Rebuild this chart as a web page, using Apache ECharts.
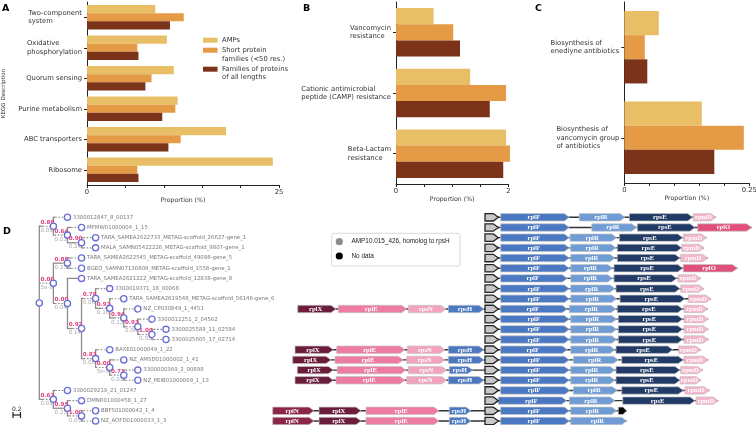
<!DOCTYPE html>
<html><head><meta charset="utf-8">
<script src="https://cdn.jsdelivr.net/npm/echarts@6/dist/echarts.min.js"></script>
<style>html,body{margin:0;padding:0;background:#fff}#c{width:756px;height:425px}</style>
</head><body><div id="c"></div>
<script>
// ---------- Panel A: KEGG description ----------
const keggCats = ['Two-component\nsystem','Oxidative\nphosphorylation','Quorum sensing','Purine metabolism','ABC transporters','Ribosome'];
const keggAMPs  = [8.9, 10.4, 11.3, 11.8, 18.1, 24.2];
const keggShort = [12.6, 6.55, 8.4, 11.5, 12.2, 6.55];
const keggAll   = [10.8, 6.7, 7.6, 9.8, 10.6, 6.7];
// ---------- Panel B: resistance ----------
const resCats  = ['Vancomycin\nresistance','Cationic antimicrobial\npeptide (CAMP) resistance','Beta-Lactam\nresistance'];
const resAMPs  = [0.67, 1.32, 1.96];
const resShort = [1.02, 1.96, 2.03];
const resAll   = [1.14, 1.67, 1.91];
// ---------- Panel C: biosynthesis ----------
const bioCats  = ['Biosynthesis of\nenediyne antibiotics','Biosynthesis of\nvancomycin group\nof antibiotics'];
const bioAMPs  = [0.069, 0.155];
const bioShort = [0.041, 0.239];
const bioAll   = [0.046, 0.18];
const seriesNames = ['AMPs','Short protein\nfamilies (<50 res.)','Families of proteins\nof all lengths'];
const axisMaxA = 25, axisStepA = 5;
const axisMaxB = 2, axisStepB = 0.5;
const axisMaxC = 0.25, axisStepC = 0.05;

// ---------- Panel D: tree (Newick, support as node name, branch length) ----------
const treeNewick = "((3300012847_8_00137:0.05,(MFMW01000004_1_15:0.1,(TARA_SAMEA2622733_METAG-scaffold_26627-gene_1:0.05,MALA_SAMN05422226_METAG-scaffold_9807-gene_1:0.05)0.90:0.24)0.64:0.03)0.88:0.09,((TARA_SAMEA2622545_METAG-scaffold_49098-gene_5:0.1,BGEO_SAMN07136809_METAG-scaffold_1558-gene_1:0.1)0.88:0.23,(TARA_SAMEA2621222_METAG-scaffold_12838-gene_8:0.4,((3300019371_18_00068:0.05,(TARA_SAMEA2619548_METAG-scaffold_56146-gene_6:0.05,(NZ_CP030849_1_4451:0.05,(3300012251_2_04562:0.05,(3300025589_11_02594:0.05,3300025605_17_02714:0.05)1.00:0.03)0.93:0.06)0.94:0.13)0.93:0.16)0.78:0.06,(BAXE01000049_1_22:0.05,(NZ_AMSD01000002_1_41:0.1,(3300000369_2_00898:0.05,NZ_PEIB01000009_1_13:0.05)0.71:0.03)0.00:5e-9)0.83:0.06)0.92:0.14)0.00:0.04)0.00:5e-9,(3300029219_21_01247:0.05,(DMNR01000458_1_27:0.05,(BBFS01000042_1_4:0.05,NZ_AOFD01000033_1_3:0.05)1.00:0.05)0.95:0.25)0.67:0.09);";
const scaleBarLen = 0.2;

// ---------- Panel D: gene neighbourhoods (positions relative to the AMP homolog start) ----------
const anchorGene = [0, 13.3];
const geneRows = [
 [['rplF',15.7,84.3],['rplR',94.3,140],['rpsE',144.3,207.7],['rpmD',208.3,231]],
 [['rplF',15.7,84.3],['rplR',106.7,151.7],['rpsE',152.3,210],['rplO',212.7,266.7]],
 [['rplF',15.7,84.3],['rplR',85,131.7],['rpsE',134.3,197.7],['rpmD',198.3,221.7]],
 [['rplF',15.7,84.3],['rplR',85.7,131],['rpsE',132.3,196.7],['rpmD',196.7,219]],
 [['rplF',15.7,84.3],['rplR',85.7,130],['rpsE',132.3,195],['rpmD',195.7,222.7]],
 [['rplF',15.7,84.3],['rplR',85.7,127.7],['rpsE',129,197.7],['rplO',198.3,252.3]],
 [['rplF',15.7,82.3],['rplR',85.7,127.7],['rpsE',129,191.7],['rpmD',193,215.7]],
 [['rplF',15.7,84.3],['rplR',85.7,130],['rpsE',131,195],['rpmD',195.7,219]],
 [['rplF',15.7,84.3],['rplR',85.7,131.7],['rpsE',135,200],['rpmD',203.3,226]],
 [['rplX',-187.3,-149],['rplE',-146.7,-78.3],['rpsN',-76.7,-39],['rpsH',-36.7,-1],['rplF',15.7,82.3],['rplR',84.3,131],['rpsE',132.3,197.7],['rpmD',199,222.7]],
 [['rplF',15.7,84.3],['rplR',85.7,131.7],['rpsE',133.3,197.7],['rpmD',199,223.3]],
 [['rplF',15.7,84.3],['rplR',85.7,131.7],['rpsE',133.3,197.7],['rpmD',199,223.3]],
 [['rplF',15.7,84.3],['rplR',85.7,131.7],['rpsE',133.3,197.7],['rpmD',199,223.3]],
 [['rplX',-190,-151.7],['rplE',-148.3,-80],['rpsN',-77.7,-40],['rpsH',-36.7,-1],['rplF',15.7,82.3],['rplR',85.7,130],['rpsE',131,187.7],['rpmD',193.7,215.7]],
 [['rplX',-192.3,-154],['rplE',-150,-81.7],['rpsN',-78.3,-40],['rpsH',-36.7,-1],['rplF',15.7,84.3],['rplR',88.3,133.3],['rpsE',136.7,198.3],['rpmD',199,223.3]],
 [['rplX',-187.7,-151.7],['rplE',-147.7,-79],['rpsN',-76.7,-38.3],['rpsH',-35.7,-12.3],['rplF',15.7,84.3],['rplR',85.7,130],['rpsE',131,195],['rpmD',195.7,217.7]],
 [['rplX',-190,-151.7],['rplE',-149,-80],['rpsN',-78.3,-38.3],['rpsH',-36.7,-1],['rplF',15.7,84.3],['rplR',85.7,130],['rpsE',131,195],['rpmD',195,216]],
 [['rplF',15.7,85],['rplR',88.3,132.3],['rpsE',136.7,198.3],['rpmD',200,224.3]],
 [['rplF',13.3,81.7],['rplR',84.3,130],['rpsE',137.7,210],['rpmD',211,233.3]],
 [['rplN',-212.3,-171],['rplX',-166,-124],['rplE',-119,-46],['rpsH',-35.7,-14],['rplF',15.7,84.3],['rplR',85.7,131.7],['nodata',133.3,141.7]],
 [['rplN',-212.3,-171],['rplX',-166,-124],['rplE',-119,-46],['rpsH',-35.7,-14],['rplF',15.7,84.3],['rplR',85.7,141.7]]
];

// ---------- styles ----------
const barColors = ['#E8BF66','#E59A46','#7B3319'];
const geneColors = {rplF:'#4a78c2', rplR:'#709cd6', rpsE:'#213b66', rpmD:'#f5b5ca', rplO:'#e14f7c',
  rplX:'#6b1e3c', rplE:'#ee7ba2', rpsN:'#f2a3bf', rpsH:'#4a78c2', rplN:'#8c2549', nodata:'#000000'};
const FONT = 'DejaVu Sans';
const txt = '#333';

// parse Newick
function parseNewick(s){
  let i = 0;
  function node(){
    const n = {children:[], name:'', len:''};
    if (s[i] === '('){
      i++; n.children.push(node());
      while (s[i] === ','){ i++; n.children.push(node()); }
      i++;
    }
    let name=''; while (i < s.length && !',():;'.includes(s[i])) name += s[i++];
    n.name = name;
    if (s[i] === ':'){ i++; let l=''; while (i < s.length && !',();'.includes(s[i])) l += s[i++]; n.len = l; }
    return n;
  }
  return node();
}
const root = parseNewick(treeNewick);
const nodes = []; let leafIdx = 0;
(function layout(n, depth, parent){
  n.x = depth; n.parent = parent; nodes.push(n);
  if (n.children.length){
    n.children.forEach(c => layout(c, depth+1, n));
    n.y = n.children.reduce((a,c)=>a+c.y,0)/n.children.length;
  } else n.y = leafIdx++;
})(root, 0, null);
const distToDepth = 2.66; // depth units per branch-length unit

function renderTree(params, api){
  const n = nodes[params.dataIndex];
  const p = api.coord([n.x, n.y]);
  const els = [];
  const ls = {stroke:'#8c8c8c', lineWidth:1.3};
  if (n.children.length){
    const a = api.coord([n.x, n.children[0].y]), b = api.coord([n.x, n.children[n.children.length-1].y]);
    els.push({type:'line', shape:{x1:a[0],y1:a[1]-0.6,x2:b[0],y2:b[1]+0.6}, style:ls});
  }
  if (n.parent){
    const q = api.coord([n.parent.x, n.y]);
    const d = parseFloat(n.len)||0;
    const sx = api.coord([Math.min(n.x, n.parent.x + d*distToDepth), n.y])[0];
    els.push({type:'line', shape:{x1:q[0],y1:q[1],x2:sx,y2:q[1]}, style:ls});
    if (sx < p[0]) els.push({type:'line', shape:{x1:sx,y1:q[1],x2:p[0],y2:q[1]}, style:{stroke:'#8c8c8c', lineWidth:1.1, lineDash:[1.6,1.6]}});
    if (n.children.length){
      els.push({type:'text', style:{x:q[0]+1.2, y:q[1]-0.8, text:n.name, fill:'#e2407c', font:'bold 5.6px '+FONT, textAlign:'left', textVerticalAlign:'bottom'}});
      els.push({type:'text', style:{x:q[0]+1.2, y:q[1]+1.2, text:n.len, fill:'#a8a8a8', font:'5.6px '+FONT, textAlign:'left', textVerticalAlign:'top'}});
    }
  }
  els.push({type:'circle', shape:{cx:p[0], cy:p[1], r:3.1}, style:{fill:'#fff', stroke:'#6a6fd6', lineWidth:1.3}});
  if (!n.children.length){
    els.push({type:'text', style:{x:p[0]+5.5, y:p[1], text:n.name, fill:'#7a7a7a', font:'5.4px '+FONT, textAlign:'left', textVerticalAlign:'middle'}});
  }
  if (!n.parent){
    // scale bar
    const w = api.size([scaleBarLen*distToDepth, 0])[0];
    const bx = 13, by = 415;
    els.push({type:'line', shape:{x1:bx,y1:by,x2:bx+w,y2:by}, style:{stroke:'#222', lineWidth:1.2}});
    els.push({type:'line', shape:{x1:bx,y1:by-3,x2:bx,y2:by+3}, style:{stroke:'#222', lineWidth:1.2}});
    els.push({type:'line', shape:{x1:bx+w,y1:by-3,x2:bx+w,y2:by+3}, style:{stroke:'#222', lineWidth:1.2}});
    els.push({type:'text', style:{x:bx+w/2, y:by-2.5, text:String(scaleBarLen), fill:'#222', font:'6px '+FONT, textAlign:'center', textVerticalAlign:'bottom'}});
  }
  return {type:'group', children:els};
}

// gene data
const geneData = [], rowLineData = [];
geneRows.forEach((row, r) => {
  const all = row.concat([['anchor', anchorGene[0], anchorGene[1]]]);
  rowLineData.push([Math.min(...all.map(g=>g[1])), Math.max(...all.map(g=>g[2])), r]);
  all.forEach(g => geneData.push([g[1], g[2], r, g[0]]));
});
function renderGene(params, api){
  const g = geneData[params.dataIndex];
  const a = api.coord([g[0], g[2]]), b = api.coord([g[1], g[2]]);
  const h = 7.4, y = a[1];
  const len = b[0]-a[0];
  const head = Math.min(5, len*0.45);
  const pts = [[a[0],y-h/2],[b[0]-head,y-h/2],[b[0],y],[b[0]-head,y+h/2],[a[0],y+h/2]];
  const isAnchor = g[3]==='anchor';
  const els = [{type:'polygon', shape:{points:pts}, style: isAnchor ? {fill:'#c8c8c8', stroke:'#222', lineWidth:1.3} : {fill:geneColors[g[3]], stroke:'#c4c4c4', lineWidth:0.7}}];
  if (!isAnchor && g[3]!=='nodata'){
    els.push({type:'text', style:{x:(a[0]+b[0]-head*0.5)/2, y:y+0.3, text:g[3], fill:'#fff', font:'bold 6.6px "Liberation Serif"', textAlign:'center', textVerticalAlign:'middle'}});
  }
  return {type:'group', children:els};
}
function renderRowLine(params, api){
  const d = rowLineData[params.dataIndex];
  const a = api.coord([d[0], d[2]]), b = api.coord([d[1], d[2]]);
  return {type:'line', shape:{x1:a[0],y1:a[1],x2:b[0],y2:b[1]}, style:{stroke:'#333', lineWidth:1.4}};
}

function catAxis(idx, cats){
  return {type:'category', gridIndex:idx, data:cats, inverse:true,
    axisLine:{show:true, lineStyle:{color:'#222', width:1}},
    axisTick:{show:true, alignWithLabel:true, length:3, lineStyle:{color:'#222'}},
    axisLabel:{margin:5, align:'right', fontFamily:FONT, fontSize:6.8, color:txt,
      formatter: v => v.split('\n').map(s=>'{l|'+s+'}').join('\n'),
      rich:{l:{align:'left', fontFamily:FONT, fontSize:6.8, color:txt, lineHeight:8.4}}},
    splitLine:{show:false}};
}
function valAxis(idx, max, step){
  return {type:'value', gridIndex:idx, min:0, max:max, interval:step,
    axisLine:{show:true, lineStyle:{color:'#222', width:1}},
    axisTick:{show:true, length:3, lineStyle:{color:'#222'}},
    axisLabel:{fontFamily:FONT, fontSize:6.8, color:txt, margin:4, showMinLabel:true, showMaxLabel:true,
      formatter: v => (Math.abs(v) < 1e-9 || Math.abs(v-max) < 1e-9) ? String(v) : ''},
    splitLine:{show:false},
    name:'Proportion (%)', nameLocation:'middle', nameGap:11, nameTextStyle:{fontFamily:FONT, fontSize:6.2, color:txt}};
}
function bars(idx, vals){
  return vals.map((v,k)=>({type:'bar', name:seriesNames[k], xAxisIndex:idx, yAxisIndex:idx, data:v,
    itemStyle:{color:barColors[k]}, barGap:'0%', barCategoryGap:'20%', clip:false, silent:true}));
}

const chart = echarts.init(document.getElementById('c'), null, {renderer:'canvas'});
const option = {
  animation:false,
  textStyle:{fontFamily:FONT},
  grid:[
    {left:87, top:2, width:192, height:183, outerBoundsMode:'none'},
    {left:396, top:2, width:112.3, height:182, outerBoundsMode:'none'},
    {left:624.3, top:2, width:125, height:181, outerBoundsMode:'none'},
    {left:39.3, top:217.3, width:126.7, height:203.7, outerBoundsMode:'none'},
    {left:270, top:217.3, width:485, height:203.7, outerBoundsMode:'none'}
  ],
  xAxis:[
    valAxis(0, axisMaxA, axisStepA), valAxis(1, axisMaxB, axisStepB), valAxis(2, axisMaxC, axisStepC),
    {type:'value', gridIndex:3, min:0, max:9, show:false},
    {type:'value', gridIndex:4, min:-215, max:270, show:false}
  ],
  yAxis:[
    Object.assign(catAxis(0, keggCats), {name:'KEGG Description', nameLocation:'middle', nameGap:80, nameRotate:90, nameTextStyle:{fontFamily:FONT, fontSize:5.6, color:txt}}),
    catAxis(1, resCats), catAxis(2, bioCats),
    {type:'value', gridIndex:3, min:0, max:20, inverse:true, show:false},
    {type:'value', gridIndex:4, min:0, max:20, inverse:true, show:false}
  ],
  series: [].concat(
    bars(0, [keggAMPs, keggShort, keggAll]),
    bars(1, [resAMPs, resShort, resAll]),
    bars(2, [bioAMPs, bioShort, bioAll]),
    [{type:'custom', xAxisIndex:3, yAxisIndex:3, data:nodes.map(n=>[n.x, n.y]), renderItem:renderTree, silent:true, clip:false},
     {type:'custom', xAxisIndex:4, yAxisIndex:4, data:rowLineData, renderItem:renderRowLine, silent:true, z:1},
     {type:'custom', xAxisIndex:4, yAxisIndex:4, data:geneData.map(g=>[g[0],g[1],g[2]]), renderItem:renderGene, silent:true, z:2}]
  ),
  graphic:[
    {type:'text', left:2, top:4, style:{text:'A', font:'bold 9.5px '+FONT, fill:'#000'}},
    {type:'text', left:303, top:4, style:{text:'B', font:'bold 9.5px '+FONT, fill:'#000'}},
    {type:'text', left:535, top:4, style:{text:'C', font:'bold 9.5px '+FONT, fill:'#000'}},
    {type:'text', left:3, top:227, style:{text:'D', font:'bold 9.5px '+FONT, fill:'#000'}},
    // legend of panels A-C
    {type:'rect', shape:{x:203, y:37.7, width:14.5, height:5}, style:{fill:barColors[0]}},
    {type:'rect', shape:{x:203, y:47.7, width:14.5, height:5}, style:{fill:barColors[1]}},
    {type:'rect', shape:{x:203, y:66.7, width:14.5, height:5}, style:{fill:barColors[2]}},
    {type:'text', x:222, y:40.2, style:{text:seriesNames[0], font:'6.8px '+FONT, fill:txt, textVerticalAlign:'middle', lineHeight:8.4}},
    {type:'text', x:222, y:46.3, style:{text:seriesNames[1], font:'6.8px '+FONT, fill:txt, textVerticalAlign:'top', lineHeight:8.4}},
    {type:'text', x:222, y:65.1, style:{text:seriesNames[2], font:'6.8px '+FONT, fill:txt, textVerticalAlign:'top', lineHeight:8.4}},
    // legend of panel D
    {type:'rect', shape:{x:331.7, y:233.3, width:128.3, height:32.7, r:2}, style:{fill:'#fff', stroke:'#cfcfcf', lineWidth:0.8}},
    {type:'circle', shape:{cx:339.3, cy:241.7, r:3.6}, style:{fill:'#8c8c8c'}},
    {type:'circle', shape:{cx:339.3, cy:256, r:3.6}, style:{fill:'#000'}},
    {type:'text', x:351.5, y:241.7, style:{text:'AMP10.015_426, homolog to rpsH', font:'6.4px "Liberation Sans"', fill:'#222', textVerticalAlign:'middle'}},
    {type:'text', x:351.5, y:256, style:{text:'No data', font:'6.4px "Liberation Sans"', fill:'#222', textVerticalAlign:'middle'}}
  ]
};
chart.setOption(option);
</script></body></html>
